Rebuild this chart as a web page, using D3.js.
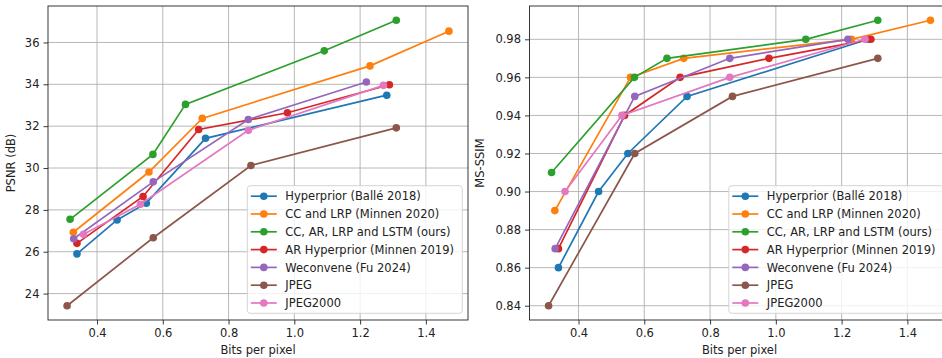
<!DOCTYPE html>
<html>
<head>
<meta charset="utf-8">
<script src="https://cdn.jsdelivr.net/npm/d3@7"></script>
<style>
  body { margin: 0; background: #fff; }
  svg text { font-family: "DejaVu Sans", sans-serif; fill: #222; }
</style>
</head>
<body>
<svg id="chart" width="942" height="358"></svg>
<script>
// series names, in legend order
const methods = [
  "Hyperprior (Ballé 2018)",
  "CC and LRP (Minnen 2020)",
  "CC, AR, LRP and LSTM (ours)",
  "AR Hyperprior (Minnen 2019)",
  "Weconvene (Fu 2024)",
  "JPEG",
  "JPEG2000"
];

// bits per pixel for each method
const bppHyperprior = [0.339, 0.461, 0.550, 0.730, 1.281];
const bppCcLrp      = [0.328, 0.558, 0.720, 1.230, 1.470];
const bppOurs       = [0.318, 0.570, 0.669, 1.091, 1.310];
const bppArHyper    = [0.339, 0.540, 0.709, 0.979, 1.289];
const bppWeconvene  = [0.329, 0.571, 0.860, 1.219];
const bppJpeg       = [0.309, 0.571, 0.868, 1.310];
const bppJpeg2000   = [0.359, 0.532, 0.860, 1.271];

// PSNR (dB)
const psnrHyperprior = [25.90, 27.52, 28.32, 31.42, 33.48];
const psnrCcLrp      = [26.93, 29.81, 32.37, 34.88, 36.54];
const psnrOurs       = [27.55, 30.65, 33.04, 35.60, 37.06];
const psnrArHyper    = [26.40, 28.64, 31.84, 32.64, 33.98];
const psnrWeconvene  = [26.62, 29.34, 32.32, 34.11];
const psnrJpeg       = [23.42, 26.67, 30.12, 31.92];
const psnrJpeg2000   = [26.83, 28.27, 31.80, 33.95];

// MS-SSIM
const ssimHyperprior = [0.86, 0.90, 0.92, 0.95, 0.98];
const ssimCcLrp      = [0.89, 0.96, 0.97, 0.98, 0.99];
const ssimOurs       = [0.91, 0.96, 0.97, 0.98, 0.99];
const ssimArHyper    = [0.87, 0.94, 0.96, 0.97, 0.98];
const ssimWeconvene  = [0.87, 0.95, 0.97, 0.98];
const ssimJpeg       = [0.84, 0.92, 0.95, 0.97];
const ssimJpeg2000   = [0.90, 0.94, 0.96, 0.98];

const xTicks = [0.4, 0.6, 0.8, 1.0, 1.2, 1.4];
const psnrTicks = [24, 26, 28, 30, 32, 34, 36];
const ssimTicks = [0.84, 0.86, 0.88, 0.90, 0.92, 0.94, 0.96, 0.98];

const colors = ["#1f77b4", "#ff7f0e", "#2ca02c", "#d62728", "#9467bd", "#8c564b", "#e377c2"];

const bpp = [bppHyperprior, bppCcLrp, bppOurs, bppArHyper, bppWeconvene, bppJpeg, bppJpeg2000];
const psnr = [psnrHyperprior, psnrCcLrp, psnrOurs, psnrArHyper, psnrWeconvene, psnrJpeg, psnrJpeg2000];
const ssim = [ssimHyperprior, ssimCcLrp, ssimOurs, ssimArHyper, ssimWeconvene, ssimJpeg, ssimJpeg2000];

const svg = d3.select("#chart");
const fontSize = 11.5;

// matplotlib style 5% margin around the data
function padded(values) {
  const ext = d3.extent(values);
  const m = (ext[1] - ext[0]) * 0.05;
  return [ext[0] - m, ext[1] + m];
}

function drawPanel(left, top, width, height, yValues, yTicks, yFormat, yLabel, yLabelX) {
  const g = svg.append("g").attr("transform", "translate(" + left + "," + top + ")");

  const x = d3.scaleLinear().domain(padded(bpp.flat())).range([0, width]);
  const y = d3.scaleLinear().domain(padded(yValues.flat())).range([height, 0]);

  // grid
  g.append("g").selectAll("line").data(xTicks).enter().append("line")
    .attr("x1", d => x(d)).attr("x2", d => x(d))
    .attr("y1", 0).attr("y2", height)
    .attr("stroke", "#b0b0b0").attr("stroke-width", 0.9);
  g.append("g").selectAll("line").data(yTicks).enter().append("line")
    .attr("y1", d => y(d)).attr("y2", d => y(d))
    .attr("x1", 0).attr("x2", width)
    .attr("stroke", "#b0b0b0").attr("stroke-width", 0.9);

  // axes
  const xAxis = g.append("g")
    .attr("transform", "translate(0," + height + ")")
    .call(d3.axisBottom(x).tickValues(xTicks).tickFormat(d3.format(".1f")).tickSize(4.5).tickPadding(4));
  const yAxis = g.append("g")
    .call(d3.axisLeft(y).tickValues(yTicks).tickFormat(yFormat).tickSize(4.5).tickPadding(4));
  [xAxis, yAxis].forEach(a => {
    a.select(".domain").remove();
    a.selectAll("line").attr("stroke", "#222").attr("stroke-width", 0.9);
    a.selectAll("text").attr("font-size", fontSize).attr("font-family", "DejaVu Sans").attr("fill", "#222");
  });

  // frame
  g.append("rect").attr("x", 0).attr("y", 0).attr("width", width).attr("height", height)
    .attr("fill", "none").attr("stroke", "#222").attr("stroke-width", 0.9);

  const clipId = "clip" + left;
  g.append("clipPath").attr("id", clipId)
    .append("rect").attr("x", 0).attr("y", 0).attr("width", width).attr("height", height);

  const plot = g.append("g").attr("clip-path", "url(#" + clipId + ")");
  const line = d3.line().x(d => x(d[0])).y(d => y(d[1]));

  methods.forEach((name, i) => {
    const pts = bpp[i].map((b, j) => [b, yValues[i][j]]);
    plot.append("path").datum(pts)
      .attr("d", line).attr("fill", "none")
      .attr("stroke", colors[i]).attr("stroke-width", 1.7);
    plot.selectAll(".m" + i).data(pts).enter().append("circle")
      .attr("cx", d => x(d[0])).attr("cy", d => y(d[1]))
      .attr("r", 3.8).attr("fill", colors[i]);
  });

  // axis labels
  g.append("text")
    .attr("x", width / 2).attr("y", height + 34)
    .attr("text-anchor", "middle").attr("font-size", fontSize)
    .text("Bits per pixel");
  g.append("text")
    .attr("transform", "translate(" + (yLabelX - left) + "," + (height / 2) + ") rotate(-90)")
    .attr("text-anchor", "middle").attr("font-size", fontSize)
    .text(yLabel);

  // legend, lower right
  const lw = 215, lh = 127.6, rowH = 17.8;
  const lg = g.append("g").attr("transform", "translate(" + (width - 5.7 - lw) + "," + (height - 6.7 - lh) + ")");
  lg.append("rect").attr("width", lw).attr("height", lh).attr("rx", 3)
    .attr("fill", "#fff").attr("fill-opacity", 0.8)
    .attr("stroke", "#d0d0d0").attr("stroke-width", 0.9);
  methods.forEach((name, i) => {
    const cy = 10.5 + i * rowH;
    lg.append("line").attr("x1", 3.5).attr("x2", 29.5).attr("y1", cy).attr("y2", cy)
      .attr("stroke", colors[i]).attr("stroke-width", 1.7);
    lg.append("circle").attr("cx", 16.5).attr("cy", cy).attr("r", 3.8).attr("fill", colors[i]);
    lg.append("text").attr("x", 38).attr("y", cy).attr("dy", "0.36em")
      .attr("font-size", fontSize).text(name);
  });
}

drawPanel(48, 6, 420, 314, psnr, psnrTicks, d3.format("d"), "PSNR (dB)", 15);
drawPanel(529.5, 6, 420, 314, ssim, ssimTicks, d3.format(".2f"), "MS-SSIM", 484);
</script>
</body>
</html>
